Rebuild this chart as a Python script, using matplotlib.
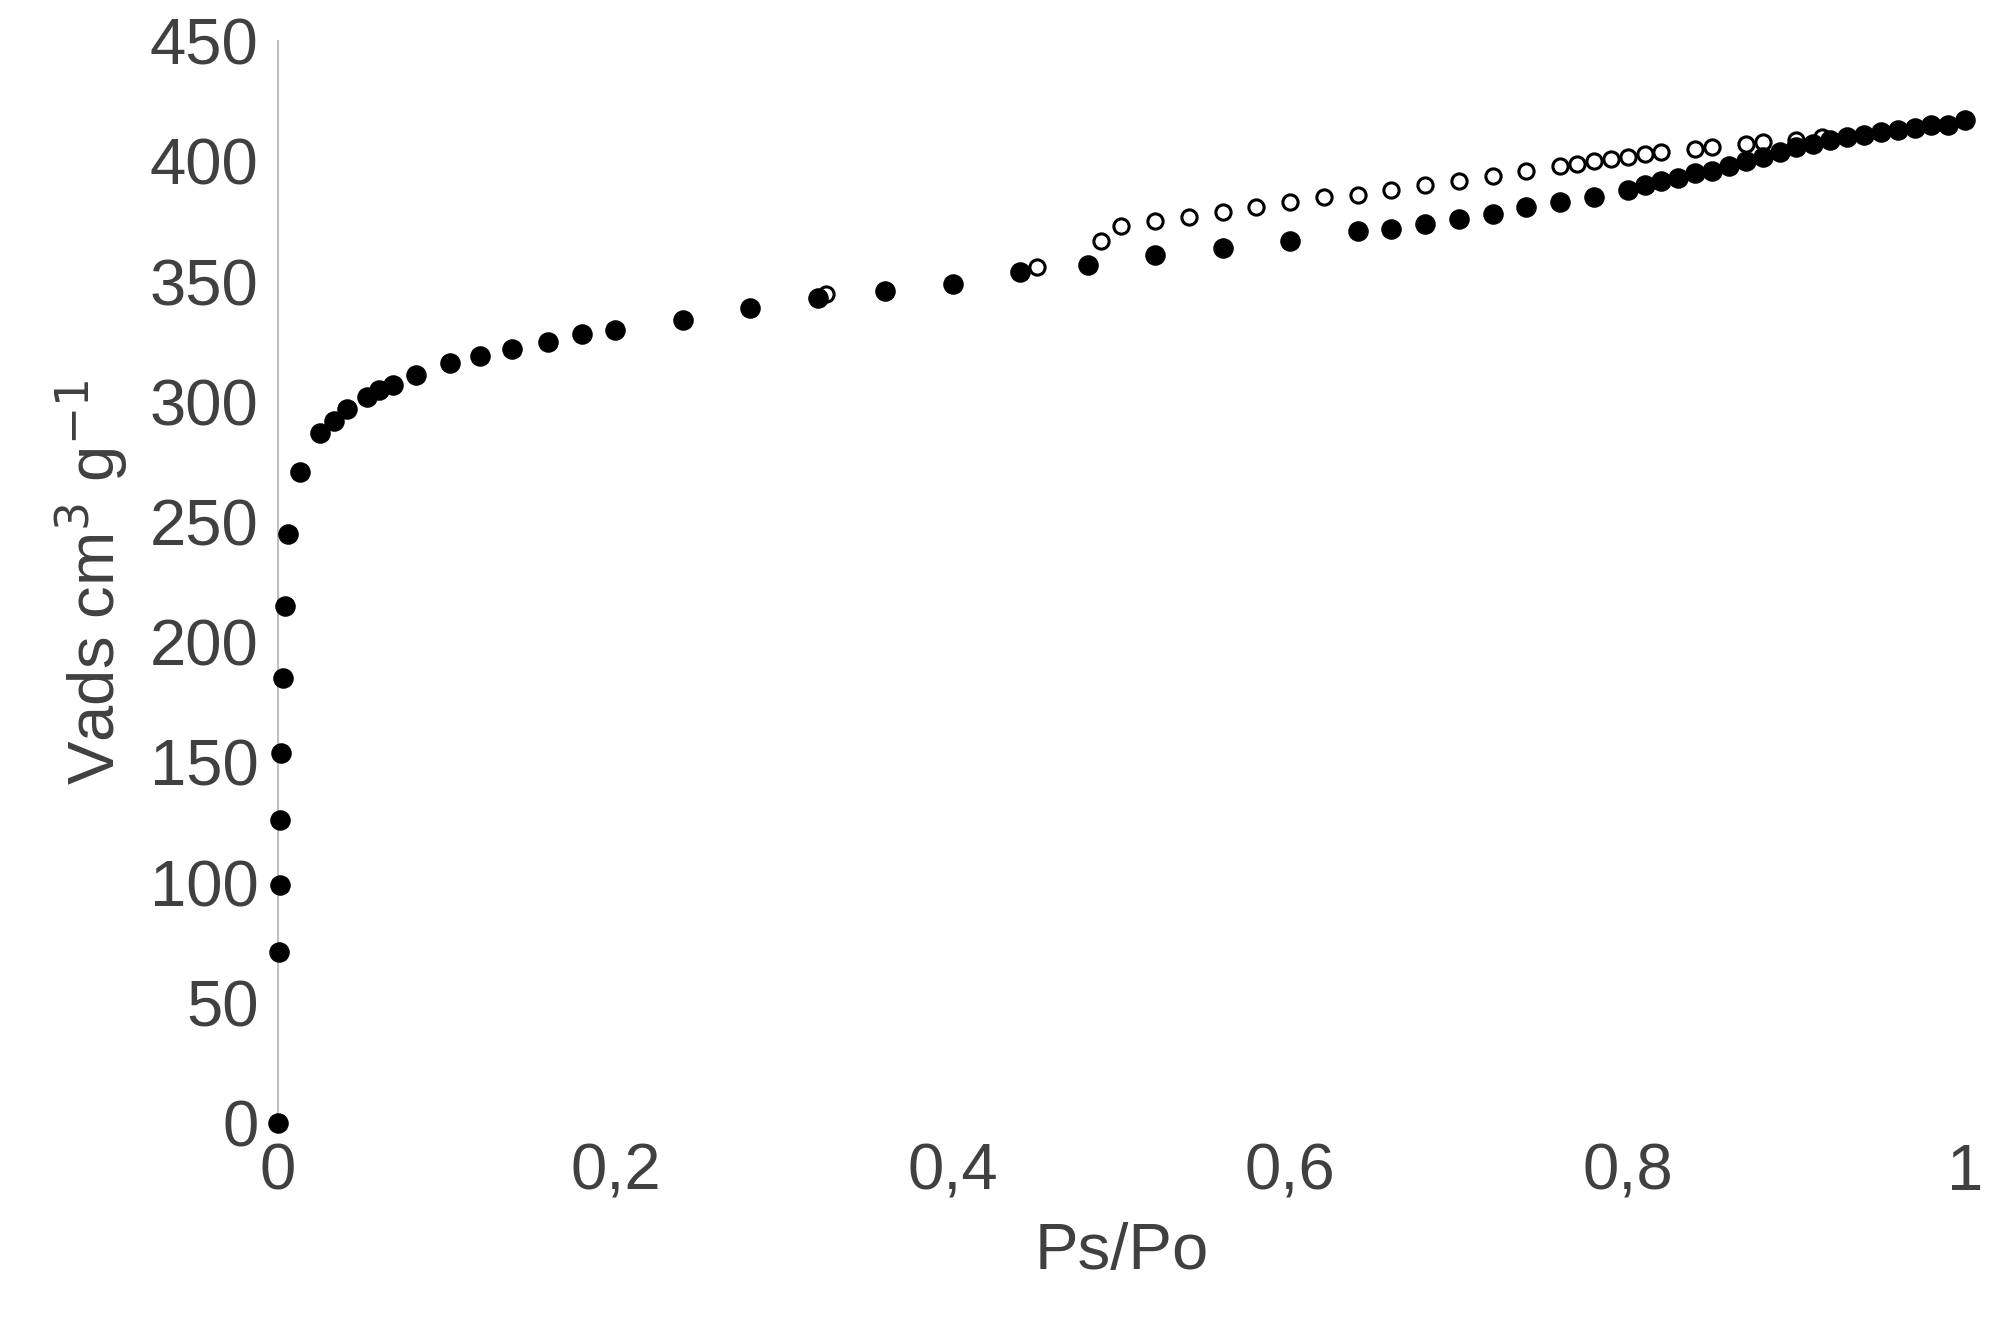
import matplotlib
matplotlib.use("Agg")
import matplotlib.pyplot as plt

ads_x = [0,0.0005,0.001,0.0015,0.002,0.003,0.004,0.006,0.013,0.025,0.033,0.041,0.053,0.06,0.068,0.082,0.102,0.12,0.139,0.16,0.18,0.2,0.24,0.28,0.32,0.36,0.4,0.44,0.48,0.52,0.56,0.6,0.64,0.66,0.68,0.7,0.72,0.74,0.76,0.78,0.8,0.81,0.82,0.83,0.84,0.85,0.86,0.87,0.88,0.89,0.9,0.91,0.92,0.93,0.94,0.95,0.96,0.97,0.98,0.99,1.0]
ads_y = [0,71,99,126,154,185,215,245,271,287,292,297,302,305,307,311,316,319,322,325,328,330,334,339,343,346,349,354,357,361,364,367,371,372,374,376,378,381,383,385,388,390,392,393,395,396,398,400,402,404,406,407,409,410,411,412,413,414,415,415,417]
des_x = [0.325,0.45,0.488,0.5,0.52,0.54,0.56,0.58,0.6,0.62,0.64,0.66,0.68,0.7,0.72,0.74,0.76,0.77,0.78,0.79,0.8,0.81,0.82,0.84,0.85,0.87,0.88,0.9,0.915]
des_y = [345,356,367,373,375,377,379,381,383,385,386,388,390,392,394,396,398,399,400,401,402,403,404,405,406,407,408,409,410]
xticks = [0,0.2,0.4,0.6,0.8,1]
xlabels = ["0","0,2","0,4","0,6","0,8","1"]
yticks = list(range(0,451,50))

plt.rcParams["font.family"] = "Liberation Sans"
fig = plt.figure(figsize=(19.89,13.26), dpi=100)
ax = fig.add_axes([0.1397,0.153,0.8483,0.816])
ax.scatter(des_x, des_y, s=120, facecolors="white", edgecolors="black", linewidths=2.2, zorder=2, clip_on=False)
ax.scatter(ads_x, ads_y, s=190, color="black", zorder=3, clip_on=False)
ax.set_xlim(0,1); ax.set_ylim(0,450)
ax.set_xticks(xticks); ax.set_xticklabels(xlabels)
ax.set_yticks(yticks)
for s in ["top","right","bottom"]:
    ax.spines[s].set_visible(False)
ax.spines["left"].set_color("#bfbfbf"); ax.spines["left"].set_linewidth(1.5)
ax.tick_params(length=0, labelsize=47, colors="#404040", pad=14)
ax.set_xlabel("Ps/Po", fontsize=47, color="#404040", labelpad=14)
ax.set_ylabel("Vads cm$^3$ g$^{-1}$", fontsize=47, color="#404040", labelpad=14)
fig.savefig("out.png", dpi=100)
